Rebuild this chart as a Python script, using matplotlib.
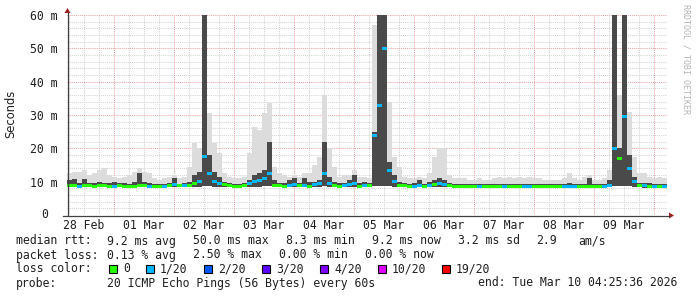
import numpy as np
import matplotlib
matplotlib.use("Agg")
import matplotlib.pyplot as plt
from matplotlib.patches import Rectangle, Polygon
import matplotlib.transforms as mtransforms

# ---------------- data (2-hour bins, ms) ----------------
start_day = 0.2167          # days since 28 Feb 00:00 at left edge
bin_days = 2.0 / 24.0

smoke_hi = [
    12.5, 13.0, 13.0, 13.5, 12.0, 12.5, 13.5, 14.0, 12.0, 11.5,
    11.0, 11.5, 12.0, 13.0, 14.2, 13.0, 12.5, 11.0, 10.5, 11.0,
    11.5, 12.0, 11.0, 11.5, 14.3, 21.5, 20.0, 62.0, 30.5, 21.5,
    18.5, 12.5, 11.5, 11.0, 11.0, 11.5, 18.5, 26.5, 25.5, 30.5,
    33.5, 14.5, 12.5, 12.0, 11.5, 12.0, 11.5, 12.5, 12.5, 15.0,
    17.5, 36.0, 20.0, 14.3, 11.5, 12.0, 12.0, 13.5, 11.5, 11.5,
    11.0, 57.0, 62.0, 62.0, 34.0, 17.5, 14.3, 11.5, 11.0, 11.0,
    11.5, 11.0, 12.5, 17.5, 20.0, 20.0, 12.0, 11.0, 11.0, 11.0,
    10.5, 10.5, 11.0, 10.5, 10.5, 11.0, 11.5, 11.0, 11.5, 11.0,
    11.5, 11.0, 11.5, 11.0, 11.0, 10.5, 10.5, 10.5, 10.5, 11.0,
    12.5, 11.0, 10.5, 11.5, 12.0, 10.5, 10.5, 11.0, 13.5, 62.0,
    36.0, 62.0, 31.0, 17.5, 12.5, 12.5, 11.5, 11.0, 11.5, 11.0,
]
smoke_dark = [
    10.5, 10.8, 9.6, 10.8, 9.6, 9.6, 10.0, 9.6, 9.6, 10.0,
    9.6, 9.6, 9.4, 10.0, 12.5, 10.0, 9.6, 9.4, 9.4, 9.4,
    9.6, 11.0, 9.4, 9.6, 10.0, 12.0, 13.0, 62.0, 18.0, 13.0,
    11.5, 10.0, 9.6, 9.4, 9.4, 9.6, 10.5, 12.0, 12.5, 13.5,
    22.0, 10.5, 9.6, 9.6, 10.5, 11.0, 9.6, 11.0, 9.8, 10.0,
    10.5, 22.0, 11.5, 10.0, 9.6, 9.6, 10.5, 12.0, 9.6, 9.8,
    9.6, 25.0, 62.0, 62.0, 16.0, 12.0, 10.0, 9.6, 9.4, 9.6,
    10.5, 9.4, 10.0, 10.5, 11.0, 10.5, 9.6, 9.4, 9.4, 9.4,
    9.2, 9.2, 9.3, 9.2, 9.2, 9.4, 9.4, 9.2, 9.4, 9.2,
    9.4, 9.2, 9.4, 9.2, 9.2, 9.2, 9.2, 9.2, 9.2, 9.3,
    9.6, 9.2, 9.2, 9.4, 11.0, 9.2, 9.2, 9.4, 10.5, 62.0,
    20.0, 62.0, 18.0, 11.5, 9.6, 9.6, 9.6, 9.4, 9.4, 9.3,
]
smoke_lo = [
    8.3, 8.3, 8.3, 8.3, 8.3, 8.3, 8.3, 8.3, 8.3, 8.3,
    8.3, 8.3, 8.3, 8.3, 8.3, 8.3, 8.3, 8.3, 8.3, 8.3,
    8.3, 8.3, 8.3, 8.3, 8.3, 8.4, 8.5, 8.6, 8.6, 8.5,
    8.4, 8.3, 8.3, 8.3, 8.3, 8.3, 8.4, 8.5, 8.5, 8.6,
    8.6, 8.3, 8.3, 8.3, 8.3, 8.3, 8.3, 8.3, 8.3, 8.3,
    8.4, 8.6, 8.4, 8.3, 8.3, 8.3, 8.3, 8.3, 8.3, 8.3,
    8.3, 8.6, 8.6, 8.6, 8.6, 8.4, 8.3, 8.3, 8.3, 8.3,
    8.3, 8.3, 8.3, 8.3, 8.4, 8.4, 8.3, 8.3, 8.3, 8.3,
    8.1, 8.1, 8.1, 8.1, 8.1, 8.1, 8.1, 8.1, 8.1, 8.1,
    8.1, 8.1, 8.1, 8.1, 8.1, 8.1, 8.1, 8.1, 8.1, 8.1,
    8.1, 8.1, 8.1, 8.1, 8.1, 8.1, 8.1, 8.1, 8.3, 8.6,
    8.6, 8.6, 8.6, 8.4, 8.3, 8.1, 8.1, 8.1, 8.1, 8.1,
]
median_ms = [
    8.9, 8.8, 8.7, 8.9, 8.8, 8.7, 8.9, 8.8, 8.7, 8.6,
    8.8, 8.7, 8.6, 8.7, 8.9, 8.8, 8.7, 8.6, 8.6, 8.7,
    9.0, 9.2, 8.8, 8.9, 9.0, 9.5, 10.0, 17.5, 12.5, 10.0,
    9.5, 9.2, 8.8, 8.7, 8.7, 9.0, 9.5, 10.0, 10.5, 11.0,
    12.5, 9.0, 8.8, 8.7, 9.0, 9.2, 8.8, 9.0, 8.6, 9.2,
    9.5, 12.5, 9.5, 8.8, 8.7, 8.8, 9.2, 9.5, 8.7, 8.8,
    8.8, 24.0, 33.0, 50.0, 13.5, 10.0, 9.0, 8.8, 8.7, 8.6,
    8.8, 8.7, 9.0, 9.3, 9.5, 9.3, 8.8, 8.7, 8.6, 8.7,
    8.5, 8.5, 8.6, 8.5, 8.5, 8.5, 8.6, 8.5, 8.5, 8.6,
    8.5, 8.5, 8.5, 8.6, 8.5, 8.5, 8.5, 8.5, 8.5, 8.6,
    8.5, 8.5, 8.5, 8.5, 8.7, 8.5, 8.5, 8.6, 9.0, 20.0,
    17.0, 29.5, 14.0, 10.0, 9.0, 8.8, 8.7, 8.6, 8.6, 8.7,
]
loss_idx = [
    0, 0, 1, 0, 0, 0, 0, 0, 0, 1,
    0, 0, 0, 0, 0, 0, 1, 0, 0, 1,
    0, 1, 0, 1, 0, 0, 1, 1, 1, 1,
    1, 0, 0, 0, 0, 0, 1, 1, 1, 1,
    1, 0, 0, 0, 1, 1, 0, 1, 0, 1,
    1, 1, 1, 0, 0, 1, 1, 1, 0, 1,
    0, 1, 1, 1, 1, 1, 0, 0, 0, 1,
    1, 0, 1, 0, 1, 1, 0, 0, 0, 0,
    0, 0, 1, 0, 0, 0, 0, 1, 0, 0,
    0, 1, 1, 0, 0, 0, 0, 0, 0, 1,
    1, 1, 0, 0, 0, 0, 0, 1, 1, 1,
    0, 1, 1, 1, 0, 1, 0, 1, 0, 1,
]

day_labels = ["28 Feb", "01 Mar", "02 Mar", "03 Mar", "04 Mar",
              "05 Mar", "06 Mar", "07 Mar", "08 Mar", "09 Mar"]
ytick_vals = [0, 10, 20, 30, 40, 50, 60]
ytick_labels = ["0", "10 m", "20 m", "30 m", "40 m", "50 m", "60 m"]

loss_names = ["0", "1/20", "2/20", "3/20", "4/20", "10/20", "19/20"]
loss_colors = ["#26ff00", "#00b8ff", "#0059ff", "#5e00ff", "#7e00ff", "#dd00ff", "#ff0000"]

legend_rows = [
    [("median rtt:", 16), ("9.2 ms avg", 107), ("50.0 ms max", 193), ("8.3 ms min", 286),
     ("9.2 ms now", 372), ("3.2 ms sd", 458), ("2.9", 536), ("am/s", 578)],
    [("packet loss:", 16), ("0.13 % avg", 107), ("2.50 % max", 193), ("0.00 % min", 279),
     ("0.00 % now", 365)],
]
probe_text = "20 ICMP Echo Pings (56 Bytes) every 60s"
end_text = "end: Tue Mar 10 04:25:36 2026"

# ---------------- figure ----------------
W, H = 697, 297
fig = plt.figure(figsize=(W / 100, H / 100), dpi=100)
fig.patch.set_facecolor("white")
MONO = "DejaVu Sans Mono"
FS = 8.3
TXT = "#202020"

def fx(px):
    return px / W

def fy(py):
    return 1 - py / H

ax = fig.add_axes([fx(67), fy(215), 600 / W, 200 / H])
ax.set_facecolor("white")
ax.set_xlim(start_day, start_day + 10)
ax.set_ylim(0, 60)
for s in ax.spines.values():
    s.set_visible(False)

# grid
minor_grid = "#d4d4d4"
major_grid = "#eba3a3"
for d in np.arange(0, 11.01, 0.25):
    if start_day <= d <= start_day + 10:
        is_major = abs(d - round(d)) < 1e-6
        ax.axvline(d, color=major_grid if is_major else minor_grid, lw=0.75,
                   ls=(0, (1, 1)), zorder=0.5 if is_major else 0)
for v in range(2, 61, 2):
    is_major = v % 10 == 0
    ax.axhline(v, color=major_grid if is_major else minor_grid, lw=0.75,
               ls=(0, (1, 1)), zorder=0.5 if is_major else 0)

n = len(smoke_hi)
x_left = start_day + np.arange(n) * bin_days
hi = np.array(smoke_hi)
dk = np.array(smoke_dark)
lo = np.array(smoke_lo)
med = np.array(median_ms)

ax.bar(x_left, hi - lo, bottom=lo, width=bin_days, align="edge",
       color="#dcdcdc", linewidth=0, zorder=2)
ax.bar(x_left, dk - lo, bottom=lo, width=bin_days, align="edge",
       color="#4a4a4a", linewidth=0, zorder=3)
ax.bar(x_left, np.full(n, 0.9), bottom=med - 0.45, width=bin_days, align="edge",
       color=[loss_colors[i] for i in loss_idx], linewidth=0, zorder=4)

# ticks
ax.set_xticks([d + 0.5 for d in range(10)])
ax.set_xticklabels(day_labels, fontfamily=MONO, fontsize=FS, color=TXT)
ax.tick_params(axis="x", length=0, pad=3)
ax.set_yticks(ytick_vals[1:])
ax.set_yticklabels(ytick_labels[1:], fontfamily=MONO, fontsize=FS, color=TXT)
ax.tick_params(axis="y", length=0, pad=7)
trans = mtransforms.blended_transform_factory(fig.transFigure, ax.transData)
ax.text(fx(41.5), ytick_vals[0], ytick_labels[0], transform=trans, ha="left",
        va="center", fontfamily=MONO, fontsize=FS, color=TXT)

# axis lines with arrows
axis_col = "#404040"
fig.add_artist(plt.Line2D([fx(67.5), fx(67.5)], [fy(215), fy(13)], color=axis_col, lw=0.9))
fig.add_artist(plt.Line2D([fx(63), fx(670)], [fy(215.5), fy(215.5)], color=axis_col, lw=0.9))
arrow_col = "#a02020"
fig.add_artist(Polygon([[fx(64.5), fy(13)], [fx(70.5), fy(13)], [fx(67.5), fy(8)]],
                       closed=True, color=arrow_col, lw=0))
fig.add_artist(Polygon([[fx(669), fy(212.5)], [fx(669), fy(218.5)], [fx(674), fy(215.5)]],
                       closed=True, color=arrow_col, lw=0))

# labels
fig.text(fx(11), fy(114), "Seconds", rotation=90, ha="center", va="center",
         fontfamily="DejaVu Sans", fontsize=FS, color=TXT)
fig.text(fx(686), fy(4), "RRDTOOL / TOBI OETIKER", rotation=270, ha="center", va="top",
         fontfamily=MONO, fontsize=6, color="#b4b4b4")

# legend
rows_y = [241, 255, 269, 283]
for row, yy in zip(legend_rows, rows_y):
    for txt, xx in row:
        fig.text(fx(xx), fy(yy), txt, ha="left", va="center", fontfamily=MONO,
                 fontsize=FS, color=TXT)
fig.text(fx(16), fy(rows_y[2]), "loss color:", ha="left", va="center",
         fontfamily=MONO, fontsize=FS, color=TXT)
box_x = [109, 146, 204, 262, 320, 378, 442]
for name, col, bx in zip(loss_names, loss_colors, box_x):
    fig.add_artist(Rectangle((fx(bx), fy(rows_y[2] + 4)), 8 / W, 8 / H,
                             facecolor=col, edgecolor="black", lw=0.8))
    fig.text(fx(bx + 14), fy(rows_y[2]), name, ha="left", va="center",
             fontfamily=MONO, fontsize=FS, color=TXT)
fig.text(fx(16), fy(rows_y[3]), "probe:", ha="left", va="center",
         fontfamily=MONO, fontsize=FS, color=TXT)
fig.text(fx(107), fy(rows_y[3]), probe_text, ha="left", va="center",
         fontfamily=MONO, fontsize=FS, color=TXT)
fig.text(fx(478), fy(rows_y[3]), end_text, ha="left", va="center",
         fontfamily=MONO, fontsize=FS, color=TXT)

fig.savefig("out.png", dpi=100, facecolor="white")
